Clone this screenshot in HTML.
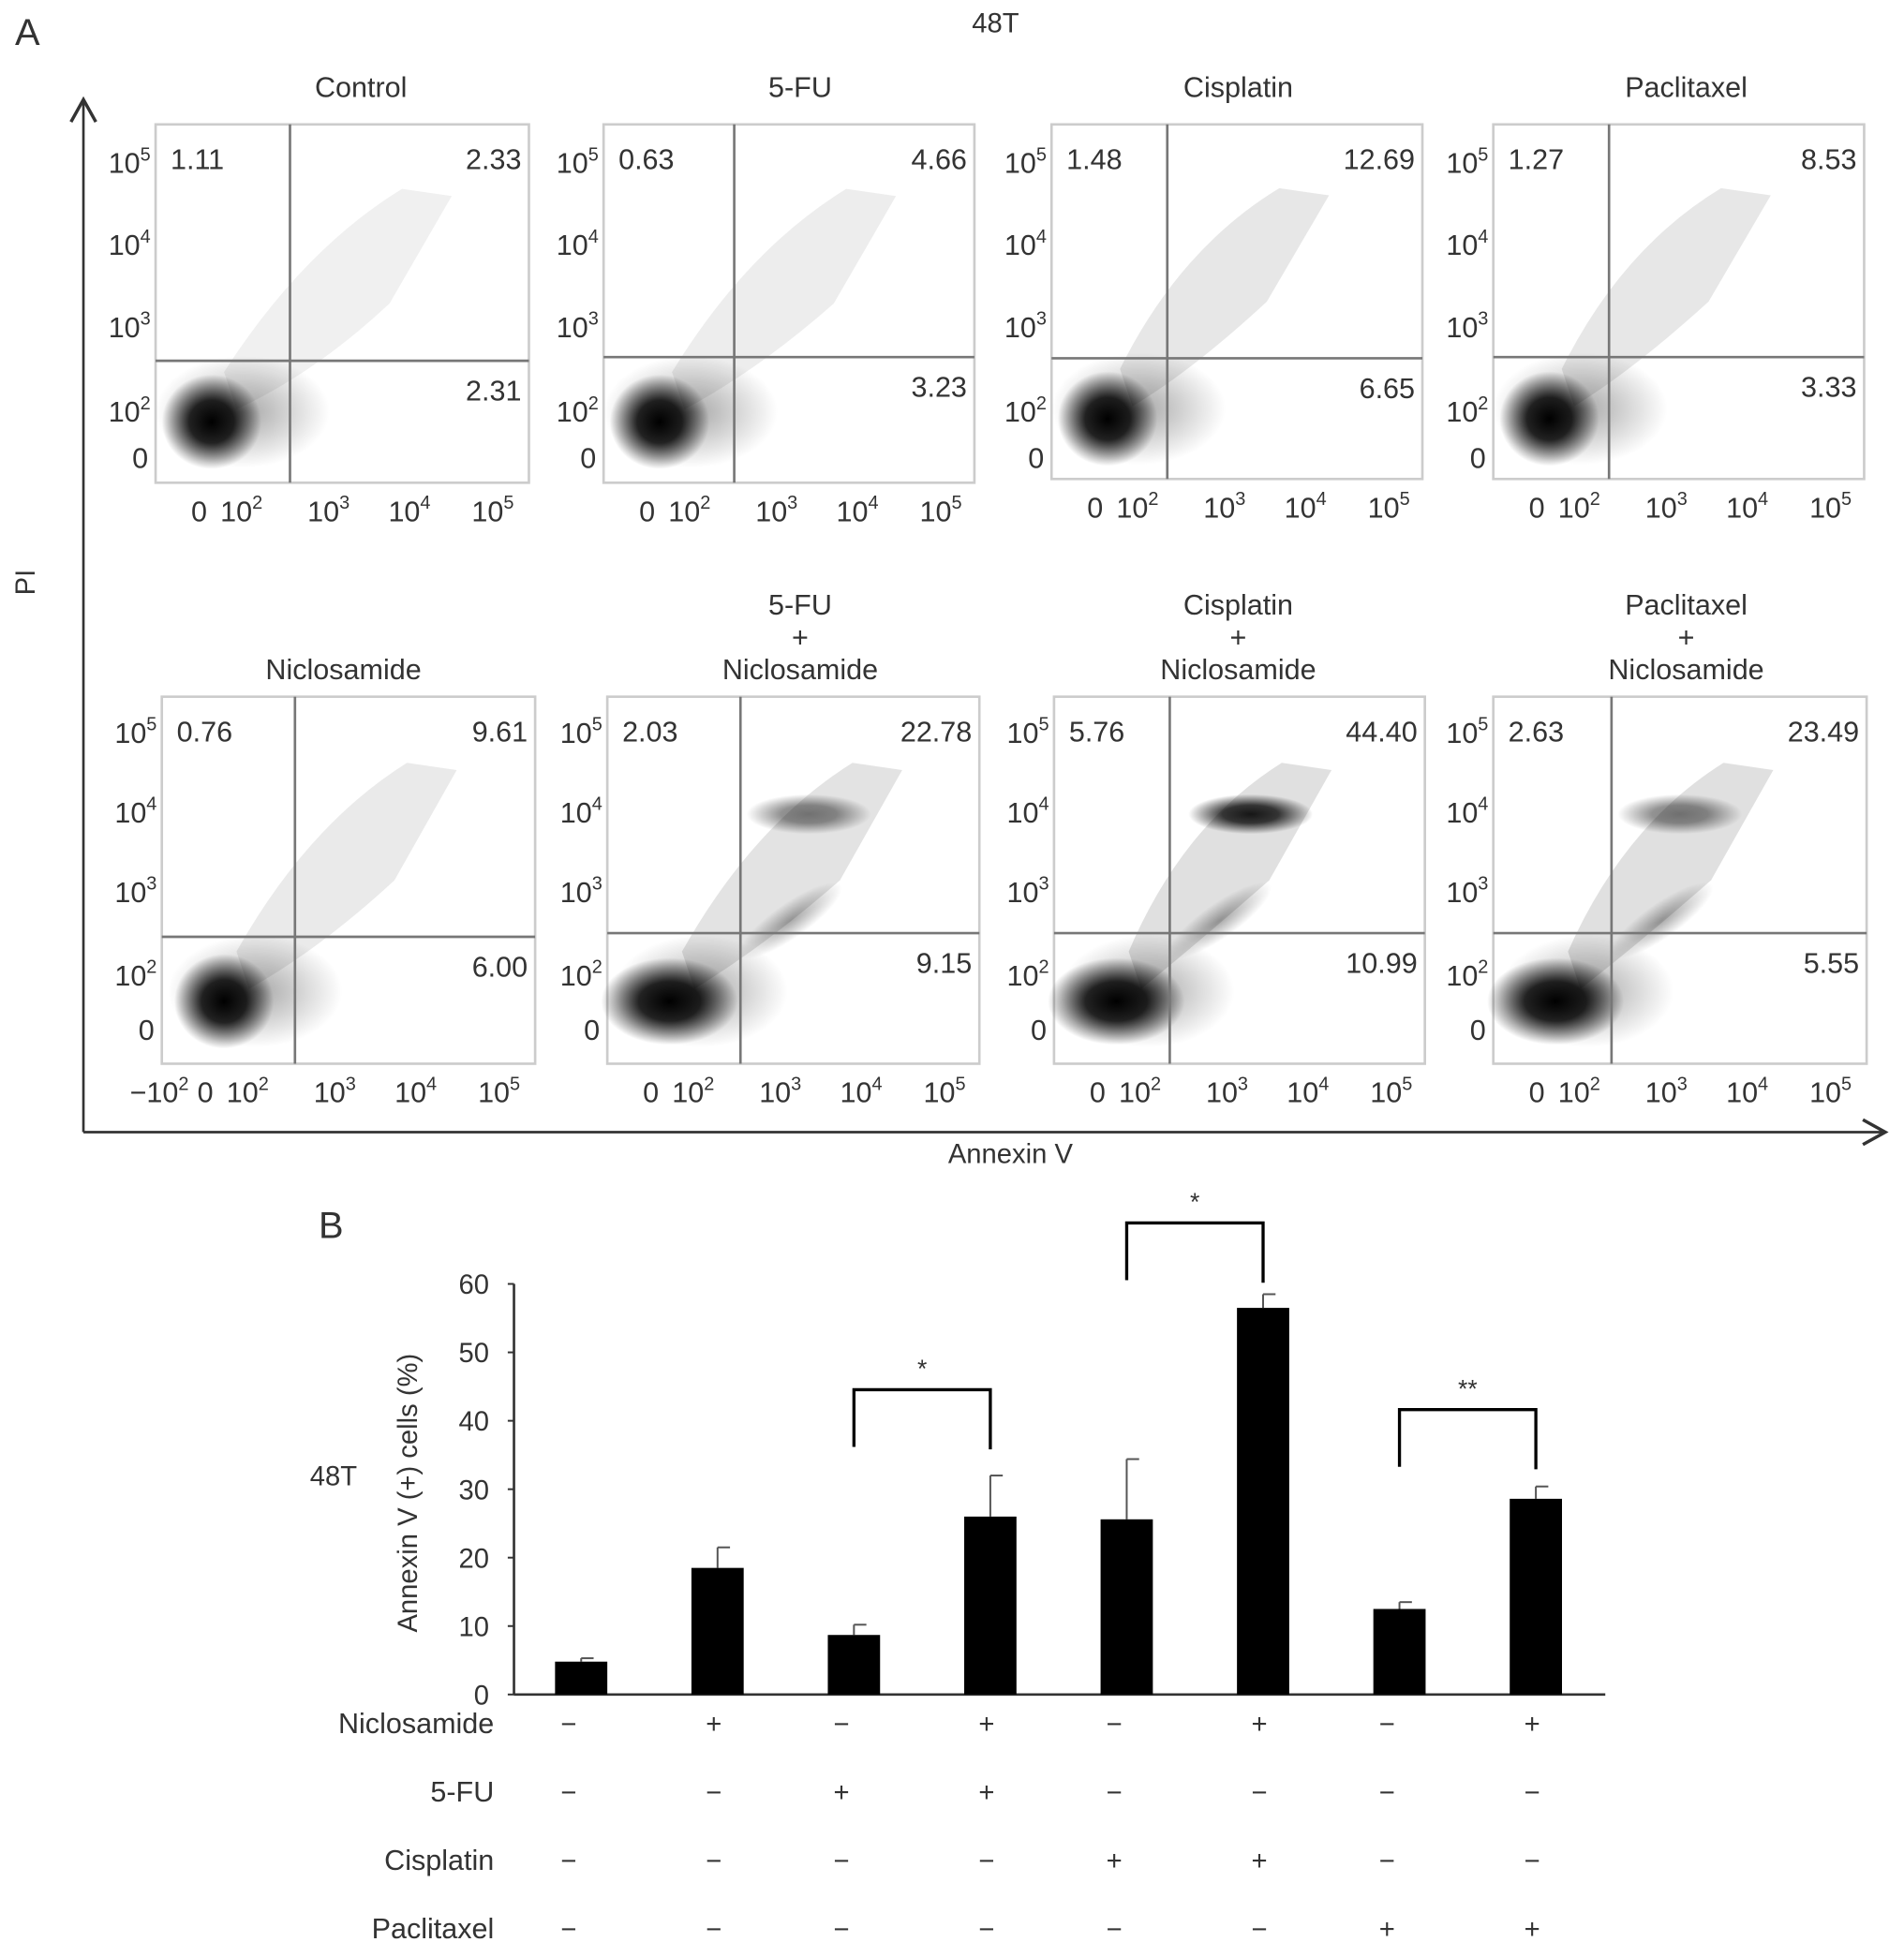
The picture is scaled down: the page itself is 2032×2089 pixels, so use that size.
<!DOCTYPE html>
<html><head><meta charset="utf-8"><style>
html,body{margin:0;padding:0;background:#fff;}
svg{display:block;font-family:"Liberation Sans",sans-serif;}
text{fill:#333;}
</style></head><body>
<svg id="fig" width="2032" height="2089" viewBox="0 0 1530 1573" xmlns="http://www.w3.org/2000/svg">
<defs>
<radialGradient id="dense"><stop offset="0" stop-color="#000" stop-opacity="1"/><stop offset="0.45" stop-color="#000" stop-opacity="0.85"/><stop offset="1" stop-color="#000" stop-opacity="0"/></radialGradient>
<radialGradient id="sparse"><stop offset="0" stop-color="#000" stop-opacity="0.35"/><stop offset="1" stop-color="#000" stop-opacity="0"/></radialGradient>
<marker id="arr" markerWidth="12" markerHeight="12" refX="10" refY="6" orient="auto"><path d="M1,1 L10,6 L1,11" fill="none" stroke="#333" stroke-width="1.3"/></marker>
</defs>
<text x="12" y="36" font-size="30">A</text>
<text x="800" y="26" font-size="22" text-anchor="middle">48T</text>
<line x1="67" y1="910" x2="67" y2="80" stroke="#333" stroke-width="2" marker-end="url(#arr)"/>
<line x1="67" y1="910" x2="1515" y2="910" stroke="#333" stroke-width="2" marker-end="url(#arr)"/>
<text x="28" y="468" font-size="22" text-anchor="middle" transform="rotate(-90 28 468)">PI</text>
<text x="812" y="935" font-size="22" text-anchor="middle">Annexin V</text>
<g id="flow"></g>
<g id="barB"></g>
</svg>
<script>
const NS='http://www.w3.org/2000/svg';
function mk(tag,attrs,parent,txt){const e=document.createElementNS(NS,tag);for(const k in attrs)e.setAttribute(k,attrs[k]);if(txt!==undefined)e.textContent=txt;parent.appendChild(e);return e;}
// ---- Flow panels ----
const panelTitles=[["Control"],["5-FU"],["Cisplatin"],["Paclitaxel"],["Niclosamide"],["5-FU","+","Niclosamide"],["Cisplatin","+","Niclosamide"],["Paclitaxel","+","Niclosamide"]];
const titleX=[290,643,995,1355,276,643,995,1355];
const ulValues=["1.11","0.63","1.48","1.27","0.76","2.03","5.76","2.63"];
const urValues=["2.33","4.66","12.69","8.53","9.61","22.78","44.40","23.49"];
const lrValues=["2.31","3.23","6.65","3.33","6.00","9.15","10.99","5.55"];
const boxes=[[125,100,425,388,233,290],[485,100,783,388,590,287],[845,100,1143,385,938,288],[1200,100,1498,385,1293,287],
[130,560,430,855,237,753],[488,560,787,855,595,750],[847,560,1145,855,940,750],[1200,560,1500,855,1295,750]];
const flow=document.getElementById('flow');
boxes.forEach((b,i)=>{
  const g=mk('g',{},flow);
  
  
  const [x0,y0,x1,y1,qx,qy]=b;const w=x1-x0,h=y1-y0;
  mk('rect',{x:x0,y:y0,width:w,height:h,fill:'none',stroke:'#ccc','stroke-width':2},g);
  const t=panelTitles[i];const cx=titleX[i];
  const base=i<4?78:546;
  t.forEach((s,k)=>{const tt=mk('text',{x:cx,y:base-(t.length-1-k)*26,'font-size':23,'text-anchor':'middle'},g,s);});
  const big=i>=4;const combo=i>=5;
  const dx=x0+45+(big?5:0), dy=y0+h*0.83;
  mk('ellipse',{cx:dx+25,cy:dy-8,rx:70,ry:45,fill:'url(#sparse)'},g);
  mk('ellipse',{cx:dx,cy:dy,rx:combo?55:40,ry:combo?35:38,fill:'url(#dense)'},g);
  const s=[0.5,0.6,0.8,0.8,0.7,0.9,1,1][i];
  mk('path',{d:`M${dx+20},${dy-10} Q${qx+20},${qy+10} ${qx+80},${y0+h*0.5} L${qx+130},${y0+h*0.2} L${qx+90},${y0+h*0.18} Q${qx+10},${y0+h*0.35} ${dx+10},${dy-40} Z`,fill:'#000','fill-opacity':0.12*s},g);
  if(i>=5){mk('ellipse',{cx:qx+(i==6?65:55),cy:y0+h*0.32,rx:50,ry:16,fill:'url(#dense)','fill-opacity':i==6?0.9:0.5},g);
    mk('ellipse',{cx:qx+40,cy:qy-10,rx:50,ry:14,fill:'url(#sparse)',transform:`rotate(-35 ${qx+40} ${qy-10})`},g);}
  mk('line',{x1:qx,y1:y0,x2:qx,y2:y1,stroke:'#777','stroke-width':2},g);
  mk('line',{x1:x0,y1:qy,x2:x1,y2:qy,stroke:'#777','stroke-width':2},g);
  mk('text',{x:x0+12,y:y0+36,'font-size':23},g,ulValues[i]);
  mk('text',{x:x1-6,y:y0+36,'font-size':23,'text-anchor':'end'},g,urValues[i]);
  mk('text',{x:x1-6,y:qy+32,'font-size':23,'text-anchor':'end'},g,lrValues[i]);
  const yt=i<4?[y0+30,y0+96,y0+162,y0+230]:[y0+28,y0+92,y0+156,y0+223];
  const ylab=['5','4','3','2'];
  yt.forEach((yy,k)=>{const tt=mk('text',{x:x0-4,y:yy+9,'font-size':23,'text-anchor':'end'},g);
    mk('tspan',{},tt,'10');mk('tspan',{dy:-10,'font-size':15},tt,ylab[k]);});
  mk('text',{x:x0-6,y:y0+276,'font-size':23,'text-anchor':'end'},g,'0');
  const xs=[35,75,145,210,277];const xy=y1+31;
  mk('text',{x:x0+xs[0],y:xy,'font-size':23,'text-anchor':'middle'},g,'0');
  ['2','3','4','5'].forEach((p,k)=>{const tt=mk('text',{x:x0+xs[k+1]-6,y:xy,'font-size':23,'text-anchor':'middle'},g);mk('tspan',{},tt,'10');mk('tspan',{dy:-10,'font-size':15},tt,p);});
  if(i==4){const tt=mk('text',{x:x0-2,y:xy,'font-size':23,'text-anchor':'middle'},g);mk('tspan',{},tt,'\u221210');mk('tspan',{dy:-10,'font-size':15},tt,'2');}
});
// ---- Bar chart B ----
const conditions=["C","N","F","F+N","Cis","Cis+N","P","P+N"];
const barValues=[4.8,18.5,8.7,26.0,25.6,56.5,12.5,28.6];
const errValues=[0.5,3.0,1.5,6.0,8.8,2.0,1.0,1.8];
const yTicks=[0,10,20,30,40,50,60];
const rowLabels=["Niclosamide","5-FU","Cisplatin","Paclitaxel"];
const signs=[["−","+","−","+","−","+","−","+"],["−","−","+","+","−","−","−","−"],["−","−","−","−","+","+","−","−"],["−","−","−","−","−","−","+","+"]];
const sigPairs=[[2,3,"*",1117],[4,5,"*",983],[6,7,"**",1133]];
const B=document.getElementById('barB');
const axX=413,axY0=1362,axY1=1032,axR=1290;
const yS=v=>axY0-(v/60)*(axY0-axY1);
const xS=i=>467+i*109.6;
let t=mk('text',{x:256,y:995,'font-size':30},B,'B');
t=mk('text',{x:268,y:1194,'font-size':22,'text-anchor':'middle'},B,'48T');
t=mk('text',{x:335,y:1200,'font-size':22,'text-anchor':'middle',transform:'rotate(-90 335 1200)'},B,'Annexin V (+) cells (%)');
let l=mk('line',{x1:axX,y1:axY0,x2:axX,y2:axY1,stroke:'#333','stroke-width':2},B);
l=mk('line',{x1:axX,y1:axY0,x2:axR,y2:axY0,stroke:'#333','stroke-width':2},B);
yTicks.forEach(v=>{mk('line',{x1:axX-5,y1:yS(v),x2:axX,y2:yS(v),stroke:'#333','stroke-width':1.5},B);
  const tt=mk('text',{x:393,y:yS(v)+8,'font-size':22,'text-anchor':'end'},B,String(v));});
barValues.forEach((v,i)=>{const cx=xS(i);
  const e=mk('line',{x1:cx,y1:yS(v),x2:cx,y2:yS(v+errValues[i]),stroke:'#555','stroke-width':1.5},B);
  mk('line',{x1:cx,y1:yS(v+errValues[i]),x2:cx+10,y2:yS(v+errValues[i]),stroke:'#555','stroke-width':1.5},B);
  const r=mk('rect',{x:cx-21,y:yS(v),width:42,height:axY0-yS(v),fill:'#000'},B);});
sigPairs.forEach(p=>{const a=xS(p[0]),b=xS(p[1]);
  const pl=mk('polyline',{points:`${a},${p[3]+46} ${a},${p[3]} ${b},${p[3]} ${b},${p[3]+48}`,fill:'none',stroke:'#000','stroke-width':2.5},B);
  const st=mk('text',{x:(a+b)/2,y:p[3]-10,'font-size':20,'text-anchor':'middle'},B,p[2]);});
rowLabels.forEach((lab,r)=>{const y=1393+r*55;
  const tt=mk('text',{x:397,y:y,'font-size':23,'text-anchor':'end'},B,lab);
  signs[r].forEach((s,i)=>{const st=mk('text',{x:xS(i)-(i%2?3:10),y:y,'font-size':22,'text-anchor':'middle'},B,s);});});
</script>
</body></html>
